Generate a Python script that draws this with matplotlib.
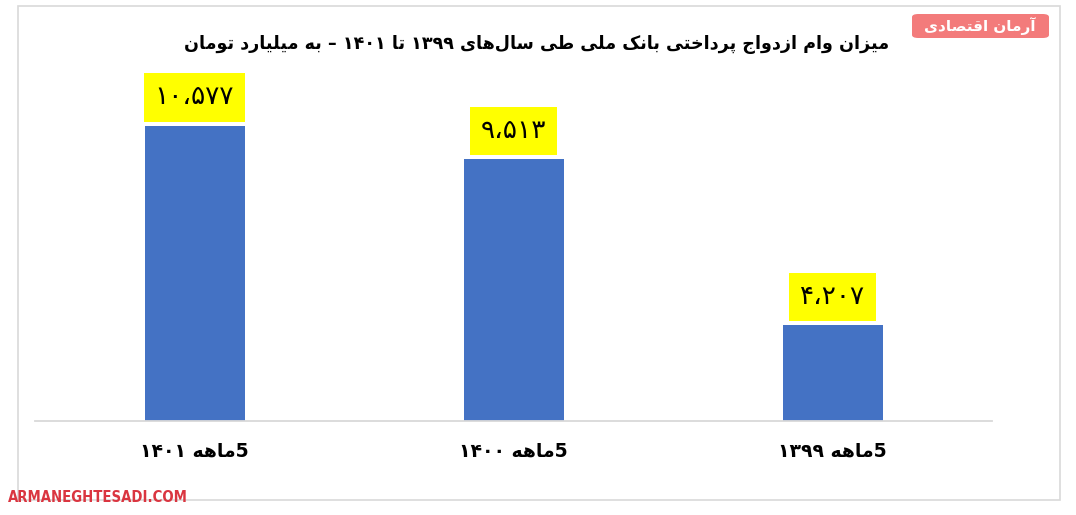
import matplotlib
matplotlib.use('Agg')
import matplotlib.pyplot as plt
from matplotlib.patches import Rectangle, FancyBboxPatch

# ---------------- data ----------------
categories = ["5ماهه ۱۴۰۱", "5ماهه ۱۴۰۰", "5ماهه ۱۳۹۹"]
values = [10577, 9513, 4207]
value_labels = ["۱۰،۵۷۷", "۹،۵۱۳", "۴،۲۰۷"]
title = "میزان وام ازدواج پرداختی بانک ملی طی سال‌های ۱۳۹۹ تا ۱۴۰۱ – به میلیارد تومان"
brand_fa = "آرمان اقتصادی"
brand_en = "ARMANEGHTESADI.COM"

# ---------------- minimal Arabic/Persian shaping ----------------
# (isolated, final, initial, medial)
FORMS = {
    '\u0622': ('\uFE81', '\uFE82', None, None),      # آ
    '\u0627': ('\uFE8D', '\uFE8E', None, None),      # ا
    '\u0628': ('\uFE8F', '\uFE90', '\uFE91', '\uFE92'),  # ب
    '\u067E': ('\uFB56', '\uFB57', '\uFB58', '\uFB59'),  # پ
    '\u062A': ('\uFE95', '\uFE96', '\uFE97', '\uFE98'),  # ت
    '\u062C': ('\uFE9D', '\uFE9E', '\uFE9F', '\uFEA0'),  # ج
    '\u062E': ('\uFEA5', '\uFEA6', '\uFEA7', '\uFEA8'),  # خ
    '\u062F': ('\uFEA9', '\uFEAA', None, None),      # د
    '\u0631': ('\uFEAD', '\uFEAE', None, None),      # ر
    '\u0632': ('\uFEAF', '\uFEB0', None, None),      # ز
    '\u0633': ('\uFEB1', '\uFEB2', '\uFEB3', '\uFEB4'),  # س
    '\u0635': ('\uFEB9', '\uFEBA', '\uFEBB', '\uFEBC'),  # ص
    '\u0637': ('\uFEC1', '\uFEC2', '\uFEC3', '\uFEC4'),  # ط
    '\u0642': ('\uFED5', '\uFED6', '\uFED7', '\uFED8'),  # ق
    '\u06A9': ('\uFB8E', '\uFB8F', '\uFB90', '\uFB91'),  # ک
    '\u0644': ('\uFEDD', '\uFEDE', '\uFEDF', '\uFEE0'),  # ل
    '\u0645': ('\uFEE1', '\uFEE2', '\uFEE3', '\uFEE4'),  # م
    '\u0646': ('\uFEE5', '\uFEE6', '\uFEE7', '\uFEE8'),  # ن
    '\u0647': ('\uFEE9', '\uFEEA', '\uFEEB', '\uFEEC'),  # ه
    '\u0648': ('\uFEED', '\uFEEE', None, None),      # و
    '\u06CC': ('\uFBFC', '\uFBFD', '\uFBFE', '\uFBFF'),  # ی
}


def _joins_next(c):
    return c in FORMS and FORMS[c][2] is not None


def shape(s):
    out = []
    n = len(s)
    for i, c in enumerate(s):
        if c == '\u200c':
            continue
        if c not in FORMS:
            out.append(c)
            continue
        prev = s[i - 1] if i > 0 else None
        nxt = s[i + 1] if i + 1 < n else None
        jp = prev is not None and _joins_next(prev)
        jn = _joins_next(c) and nxt is not None and nxt in FORMS
        iso, fin, ini, med = FORMS[c]
        if jp and jn:
            out.append(med)
        elif jp:
            out.append(fin)
        elif jn:
            out.append(ini)
        else:
            out.append(iso)
    return ''.join(out)


DIGITS = set('0123456789۰۱۲۳۴۵۶۷۸۹')
SEPS = set('،,.')


def visual(s):
    t = shape(s)
    runs = []
    i = 0
    while i < len(t):
        c = t[i]
        isd = c in DIGITS
        j = i
        while j < len(t):
            cj = t[j]
            if isd:
                if cj in DIGITS or (cj in SEPS and j + 1 < len(t) and t[j + 1] in DIGITS):
                    j += 1
                    continue
                break
            else:
                if cj in DIGITS:
                    break
                j += 1
        runs.append((t[i:j], isd))
        i = j
    return ''.join(r if d else r[::-1] for r, d in reversed(runs))


# ---------------- figure ----------------
W, H = 1076, 515
fig = plt.figure(figsize=(W / 100, H / 100), dpi=100)
fig.patch.set_facecolor('white')


def fx(px):
    return px / W


def fy(py):
    return 1 - py / H


def fit_width(txt, target_px):
    r = fig.canvas.get_renderer()
    w = txt.get_window_extent(renderer=r).width
    txt.set_fontsize(txt.get_fontsize() * target_px / w)


# outer frame
fig.patches.append(Rectangle((fx(18), fy(500)), fx(1060) - fx(18), fy(6) - fy(500),
                             transform=fig.transFigure, fill=False,
                             edgecolor='#d9d9d9', linewidth=1.2))

ax_left, ax_right, ax_top, ax_bottom = 35, 992, 70, 421
ax = fig.add_axes([fx(ax_left), fy(ax_bottom), fx(ax_right) - fx(ax_left), fy(ax_top) - fy(ax_bottom)])
ax.set_facecolor('none')

x = list(range(len(values)))
ymin = 1140
units_per_px = (10577 - 4207) / (295.3 - 96.0)
ymax = ymin + (ax_bottom - ax_top) * units_per_px
ax.bar(x, [v - ymin for v in values], bottom=ymin, width=100 / 319, color='#4472C4', zorder=2)
ax.set_xlim(-0.5, len(values) - 0.5)
ax.set_ylim(ymin, ymax)
for sp in ['top', 'left', 'right']:
    ax.spines[sp].set_visible(False)
ax.spines['bottom'].set_color('#d9d9d9')
ax.spines['bottom'].set_linewidth(1.3)
ax.set_yticks([])
ax.set_xticks(x)
ax.set_xticklabels([visual(c) for c in categories], fontsize=13.5, fontweight='bold',
                   family=['DejaVu Sans'])
ax.tick_params(axis='x', length=0, pad=15)

for xi, v, lab in zip(x, values, value_labels):
    ax.annotate(lab, (xi, v), xytext=(0, 11), textcoords='offset points',
                ha='center', va='bottom', fontsize=19, family=['DejaVu Sans'],
                color='black',
                bbox=dict(boxstyle='square,pad=0.42', facecolor='#FFFF00', edgecolor='none'),
                zorder=3)

# title
t_title = fig.text(fx(537), fy(44), visual(title), ha='center', va='center', fontsize=16,
                   fontweight='bold', family=['DejaVu Sans'], color='black')
fit_width(t_title, 705)

# brand box (top right)
fig.patches.append(FancyBboxPatch((fx(912), fy(38)), fx(1049) - fx(912), fy(14) - fy(38),
                                  boxstyle='round,pad=0,rounding_size=0.006',
                                  transform=fig.transFigure, facecolor='#F37B7B',
                                  edgecolor='none'))
t_fa = fig.text(fx(980), fy(26), visual(brand_fa), ha='center', va='center', fontsize=12,
                fontweight='bold', family=['DejaVu Sans'], color='white')
fit_width(t_fa, 112)

# brand text (bottom left)
t_en = fig.text(fx(8), fy(498), brand_en, ha='left', va='center', fontsize=15,
                fontweight='bold', fontstretch='condensed',
                family=['DejaVu Sans'], color='#DA3540')
fit_width(t_en, 180)

fig.savefig('out.png', dpi=100, facecolor='white')
